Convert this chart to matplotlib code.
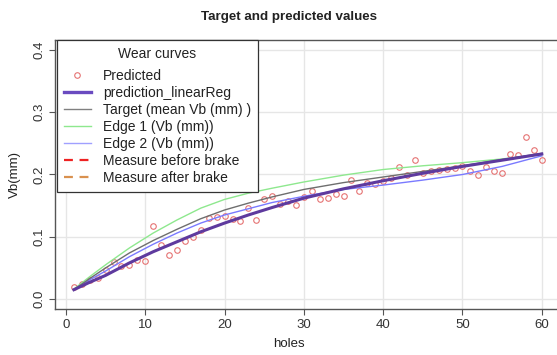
import matplotlib
matplotlib.use("Agg")
import matplotlib.pyplot as plt
from matplotlib.lines import Line2D

plt.rcParams['font.family'] = ['Liberation Sans', 'DejaVu Sans']

# Hole index for each predicted wear value
holes = list(range(1, 61))
predicted = [0.019, 0.024, 0.030, 0.033, 0.046, 0.059, 0.053, 0.055, 0.062, 0.061,
             0.117, 0.086, 0.071, 0.078, 0.094, 0.099, 0.111, 0.130, 0.132, 0.133,
             0.128, 0.125, 0.147, 0.127, 0.160, 0.165, 0.153, 0.157, 0.151, 0.164,
             0.173, 0.161, 0.162, 0.168, 0.166, 0.191, 0.173, 0.186, 0.185, 0.190,
             0.194, 0.212, 0.199, 0.223, 0.202, 0.205, 0.207, 0.209, 0.211, 0.213,
             0.206, 0.199, 0.212, 0.206, 0.203, 0.233, 0.232, 0.261, 0.240, 0.223]

# Wear curves sampled along the hole axis
curve_holes = [1, 3, 5, 8, 11, 14, 17, 20, 23, 26, 30, 35, 40, 45, 50, 55, 60]
pred_linear = [0.015, 0.027, 0.038, 0.058, 0.076, 0.092, 0.108, 0.122, 0.135, 0.147,
               0.162, 0.177, 0.190, 0.202, 0.213, 0.223, 0.233]
target_mean = [0.015, 0.033, 0.050, 0.074, 0.094, 0.112, 0.129, 0.143, 0.154, 0.164,
               0.176, 0.187, 0.196, 0.205, 0.214, 0.224, 0.234]
edge1 = [0.016, 0.036, 0.055, 0.082, 0.106, 0.127, 0.146, 0.160, 0.170, 0.178,
         0.188, 0.199, 0.208, 0.214, 0.219, 0.225, 0.232]
edge2 = [0.015, 0.031, 0.045, 0.068, 0.088, 0.106, 0.122, 0.135, 0.145, 0.155,
         0.165, 0.176, 0.183, 0.191, 0.200, 0.213, 0.230]

x_ticks = [0, 10, 20, 30, 40, 50, 60]
y_ticks = [0.0, 0.1, 0.2, 0.3, 0.4]
y_tick_labels = ["0.0", "0.1", "0.2", "0.3", "0.4"]

W, H = 557, 355
fig = plt.figure(figsize=(W / 100, H / 100), dpi=100)
ax = fig.add_axes([55.2 / W, 1 - 309 / H, 505.3 / W, 269 / H])
ax.set_xlim(-1.36, 62.36)
ax.set_ylim(-0.016, 0.416)
ax.set_xticks(x_ticks)
ax.set_yticks(y_ticks)
ax.set_yticklabels(y_tick_labels, rotation=90, va='center')
ax.grid(True, color='#e6e6e6', lw=1)
ax.set_axisbelow(True)
for s in ax.spines.values():
    s.set_color('#555555')
    s.set_linewidth(1)
ax.tick_params(direction='out', length=4, width=0.8, colors='#555555',
               labelcolor='#333333', labelsize=9.5, pad=3)

ax.plot(holes, predicted, 'o', mfc='none', mec='#e57373', ms=4, mew=0.8, zorder=2)
ax.plot(curve_holes, edge1, color='#8ee88e', lw=1, zorder=3)
ax.plot(curve_holes, edge2, color='#7a7aff', lw=1, zorder=3)
ax.plot(curve_holes, target_mean, color='#6e6e6e', lw=1, zorder=3)
ax.plot(curve_holes, pred_linear, color='#5e3a9e', lw=2.2, zorder=4)

handles = [
    Line2D([], [], ls='none', marker='o', mfc='none', mec='#e57373', ms=4, mew=0.8),
    Line2D([], [], color='#6a4bc0', lw=2.4),
    Line2D([], [], color='#808080', lw=1),
    Line2D([], [], color='#8ee88e', lw=1),
    Line2D([], [], color='#a0a0ff', lw=1),
    Line2D([], [], color='#ee2222', lw=1.6, ls=(0, (4, 3))),
    Line2D([], [], color='#d9914f', lw=1.6, ls=(0, (4, 3))),
]
labels = ["Predicted", "prediction_linearReg", "Target (mean Vb (mm) )",
          "Edge 1 (Vb (mm))", "Edge 2 (Vb (mm))", "Measure before brake",
          "Measure after brake"]
leg = fig.legend(handles, labels, title="Wear curves", loc='upper left',
                 bbox_to_anchor=(57 / W, 1 - 40 / H), bbox_transform=fig.transFigure,
                 borderaxespad=0, fontsize=10, title_fontsize=10,
                 handlelength=1.95, handletextpad=0.86, labelspacing=0.22,
                 borderpad=0.5, fancybox=False, framealpha=1, edgecolor='#333333')
leg.get_frame().set_linewidth(0.9)
# wider gap between the legend title and its entries
leg._legend_box.sep = 5.5
for t in leg.get_texts():
    t.set_color('#222222')
leg.get_title().set_color('#222222')

fig.text(289 / W, 1 - 17 / H, "Target and predicted values", ha='center', va='center',
         fontsize=9.6, fontweight='bold', color='#222222')
fig.text(289 / W, 1 - 344 / H, "holes", ha='center', va='center', fontsize=9.5,
         color='#222222')
fig.text(15 / W, 1 - 175 / H, "Vb(mm)", ha='center', va='center', rotation=90,
         fontsize=9.5, color='#222222')

fig.savefig('out.png', dpi=100)
